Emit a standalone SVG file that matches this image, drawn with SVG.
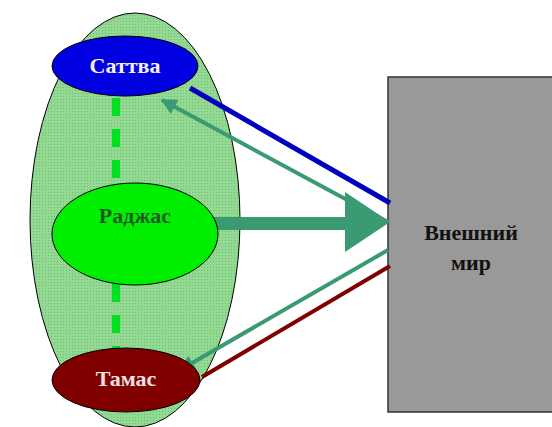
<svg xmlns="http://www.w3.org/2000/svg" width="552" height="427" viewBox="0 0 552 427">
<defs>
<pattern id="hatch" width="3" height="3" patternUnits="userSpaceOnUse">
<rect width="3" height="3" fill="#93d993"/>
<rect width="1" height="1" fill="#6cc06c"/>
</pattern>
<marker id="ah" viewBox="0 0 10 10" refX="9" refY="5" markerWidth="4.5" markerHeight="4" orient="auto" markerUnits="strokeWidth">
<path d="M0,0 L10,5 L0,10 z" fill="#3a9a72"/>
</marker>
<style>
.lbl{font-family:"Liberation Serif","Times New Roman",serif;font-weight:bold;font-size:22px;text-anchor:middle}
.edge{stroke-linecap:butt;fill:none}
</style>
</defs>
<rect width="552" height="427" fill="#ffffff"/>
<g id="outer">
<ellipse cx="135" cy="220" rx="105" ry="207" fill="url(#hatch)" stroke="#000" stroke-width="1"/>
</g>
<g id="world">
<rect x="388" y="77" width="170" height="335" fill="#999999" stroke="#333" stroke-width="1.5"/>
<text class="lbl" x="471" y="240" fill="#111">Внешний</text>
<text class="lbl" x="471" y="270" fill="#111">мир</text>
</g>
<g id="connectors">
<line x1="116" y1="98" x2="116" y2="348" stroke="#00e020" stroke-width="8" stroke-dasharray="18 13"/>
<line class="edge" x1="390" y1="203" x2="190" y2="88" stroke="#0000c0" stroke-width="5"/>
<line class="edge" x1="388" y1="222" x2="162" y2="100" stroke="#3a9a72" stroke-width="4" marker-end="url(#ah)"/>
<line class="edge" x1="388" y1="250" x2="180" y2="370" stroke="#3a9a72" stroke-width="4" marker-end="url(#ah)"/>
<line class="edge" x1="390" y1="266" x2="202" y2="377" stroke="#800000" stroke-width="4"/>
<polygon points="198,217 345,217 345,192 390,222 345,252 345,230 198,230" fill="#3a9a72"/>
</g>
<g id="sattva">
<ellipse cx="125" cy="66" rx="73" ry="30" fill="#0000e0" stroke="#000" stroke-width="1"/>
<text class="lbl" x="125" y="73" fill="#f0f0f0">Саттва</text>
</g>
<g id="rajas">
<ellipse cx="135" cy="234" rx="83" ry="51" fill="#00ee00" stroke="#000" stroke-width="1"/>
<text class="lbl" x="135" y="223" fill="#1f5a2a">Раджас</text>
</g>
<g id="tamas">
<ellipse cx="126" cy="380" rx="74" ry="32" fill="#800000" stroke="#000" stroke-width="1"/>
<text class="lbl" x="126" y="386" fill="#f0e0e0">Тамас</text>
</g>
</svg>
